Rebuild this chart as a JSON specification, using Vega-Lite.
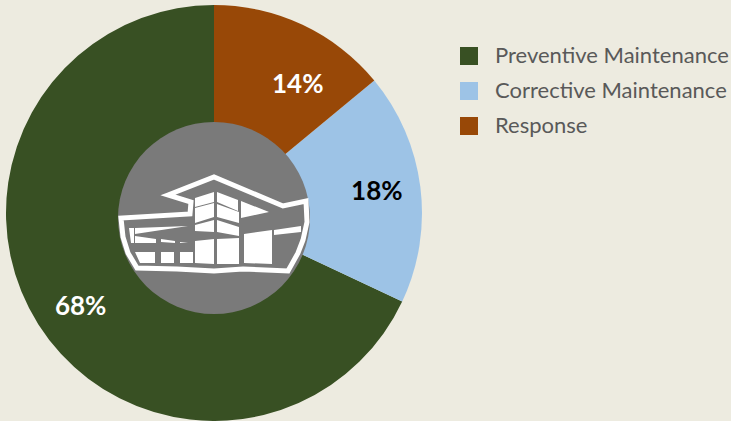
{
  "$schema": "https://vega.github.io/schema/vega-lite/v6.json",
  "width": 428,
  "height": 416,
  "padding": {"left": 0, "top": 5, "right": 303, "bottom": 0},
  "autosize": "none",
  "background": "#EDEBE0",
  "view": {"stroke": null},
  "data": {"values": [
    {"category": "Preventive Maintenance", "share": 68, "label": "68%", "middle": 34},
    {"category": "Corrective Maintenance", "share": 18, "label": "18%", "middle": 77},
    {"category": "Response", "share": 14, "label": "14%", "middle": 93}
  ]},
  "encoding": {
    "theta": {"field": "share", "type": "quantitative", "stack": true, "scale": {"domain": [0, 100], "range": [6.2832, 0]}},
    "order": {"field": "share", "type": "quantitative", "sort": "descending"}
  },
  "layer": [
    {
      "mark": {"type": "arc", "outerRadius": 208, "innerRadius": 0},
      "encoding": {
        "color": {
          "field": "category", "type": "nominal",
          "scale": {
            "domain": ["Preventive Maintenance", "Corrective Maintenance", "Response"],
            "range": ["#385023", "#9DC3E6", "#984807"]
          },
          "legend": {
            "orient": "none", "legendX": 458, "legendY": 40, "title": null,
            "symbolType": "square", "symbolSize": 324, "symbolStrokeWidth": 0,
            "labelFont": "Lato", "labelFontSize": 22, "labelColor": "#595959",
            "labelOffset": 15, "rowPadding": 13, "labelLimit": 300, "symbolOpacity": 1
          }
        }
      }
    },
    {
      "data": {"values": [{"hub": "centre"}]},
      "mark": {"type": "arc", "outerRadius": 96, "innerRadius": 0, "fill": "#7A7A7A", "theta": 0, "theta2": 6.2832},
      "encoding": {"theta": null, "order": null, "y": {"value": 213}}
    },
    {
      "data": {"values": [{"part": "outline"}]},
      "mark": {
        "type": "point", "filled": false, "stroke": "#FFFFFF", "strokeWidth": 5, "opacity": 1, "size": 4, "strokeJoin": "miter",
        "shape": "M-46-18L0-36L69-7L92-12L93 9L89 27L84 40L74 58L29 56L0 58L-37 56L-77 55L-86 40L-91 24L-93 5L-24 1L-23-11Z"
      },
      "encoding": {"theta": null, "order": null}
    },
    {
      "data": {"values": [{"part": "windows"}]},
      "mark": {
        "type": "point", "filled": true, "fill": "#FFFFFF", "stroke": null, "opacity": 1, "size": 4,
        "shape": "M-19-15L0-21L0-11L-19-6ZM3-21L24-13L24-2L3-11ZM-19-5L0-10L0 4L-19 10ZM3-9L25-1L25 10L3 4ZM-19 12L0 7L0 19L-19 18ZM3 7L25 14L25 23L3 19ZM27-12L55-1L27 5ZM30 21L58 17L58 51L30 50ZM60 17L87 13L87 19L60 22ZM3 26L25 25L25 51L3 51ZM-19 28L0 26L0 51L-19 50ZM-34 39L-21 39L-21 50L-34 50ZM-53 39L-40 39L-40 50L-53 50ZM-79 39L-59 39L-59 50L-74 50ZM-79 15L-26 13L-79 21ZM-85 15L-80 15L-80 30L-83 30ZM-79 23L-58 26L-58 30L-79 30ZM-53 26L-39 28L-39 30L-53 29ZM-34 29L-26 29L-34 30Z"
      },
      "encoding": {"theta": null, "order": null}
    },
    {
      "transform": [{"filter": "datum.category === 'Preventive Maintenance'"}],
      "mark": {"type": "text", "font": "Lato", "fontSize": 26, "fontWeight": "bold", "radius": 152, "fill": "#FFFFFF", "dx": -5, "dy": 13},
      "encoding": {"text": {"field": "label", "type": "nominal"}, "theta": {"field": "middle", "type": "quantitative", "stack": null}, "order": null}
    },
    {
      "transform": [{"filter": "datum.category === 'Corrective Maintenance'"}],
      "mark": {"type": "text", "font": "Lato", "fontSize": 26, "fontWeight": "bold", "radius": 152, "fill": "#000000", "dx": 12, "dy": -2},
      "encoding": {"text": {"field": "label", "type": "nominal"}, "theta": {"field": "middle", "type": "quantitative", "stack": null}, "order": null}
    },
    {
      "transform": [{"filter": "datum.category === 'Response'"}],
      "mark": {"type": "text", "font": "Lato", "fontSize": 26, "fontWeight": "bold", "radius": 152, "fill": "#FFFFFF", "dx": 19, "dy": 10},
      "encoding": {"text": {"field": "label", "type": "nominal"}, "theta": {"field": "middle", "type": "quantitative", "stack": null}, "order": null}
    }
  ]
}
